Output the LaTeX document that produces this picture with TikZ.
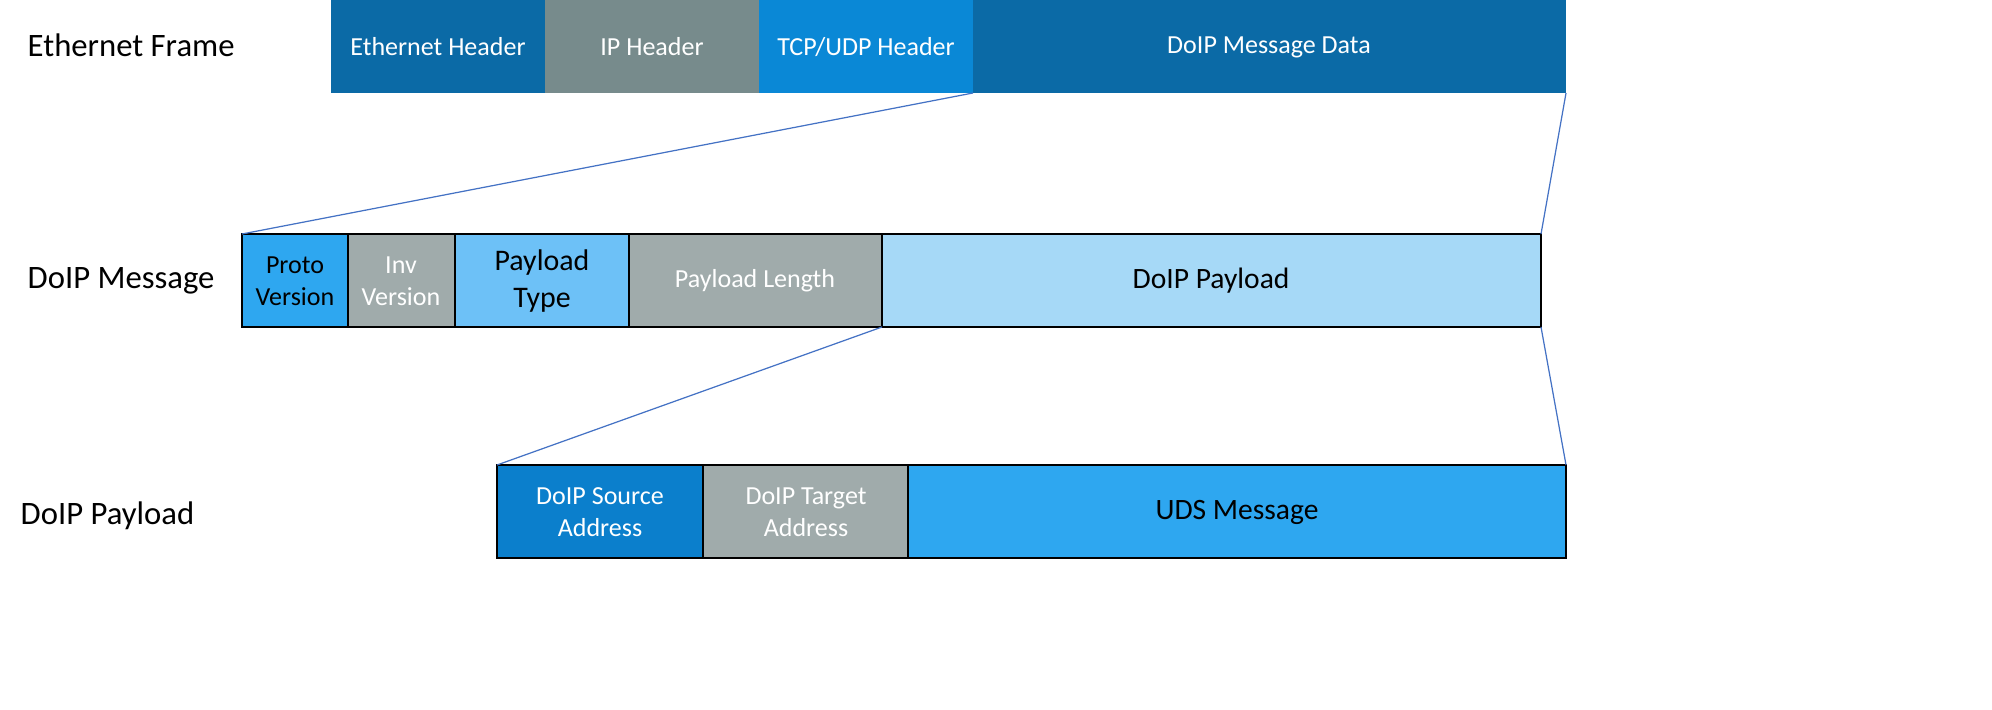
\documentclass[tikz,border=0pt]{standalone}
\usepackage{fontspec}
\setmainfont{Carlito}
\begin{document}
\begin{tikzpicture}[x=0.01cm,y=-0.01cm,
 small/.style={font=\fontsize{7.4pt}{9pt}\selectfont,align=center},
 big/.style={font=\fontsize{8.4pt}{10.4pt}\selectfont,align=center},
 lbl/.style={anchor=west,inner sep=0pt,font=\fontsize{9.3pt}{11pt}\selectfont},
 cell/.style={line width=0.6pt}]
\definecolor{dblue}{HTML}{0B6AA6}
\definecolor{dgray}{HTML}{778B8C}
\definecolor{mblue}{HTML}{0A88D6}
\definecolor{sky}{HTML}{2EA7F0}
\definecolor{lgray}{HTML}{A0ABAB}
\definecolor{pblue}{HTML}{6DC1F7}
\definecolor{vlblue}{HTML}{A6D9F7}
\definecolor{sblue}{HTML}{0B7FCC}
\definecolor{lnc}{HTML}{4472C4}
\useasboundingbox (0,0) rectangle (1992,710);
% row 1
\node[lbl] (l1) at (27,45) {Ethernet Frame};
\path[fill=dblue] (331,0) rectangle (545,93); \node[small,text=white] (eh) at (438,47) {Ethernet Header};
\path[fill=dgray] (545,0) rectangle (759,93); \node[small,text=white] (ip) at (652,47) {IP Header};
\path[fill=mblue] (759,0) rectangle (973,93); \node[small,text=white] (tcp) at (866,47) {TCP/UDP Header};
\path[fill=dblue] (973,0) rectangle (1566,93); \node[small,text=white] (md) at (1269,47) {DoIP Message Data};
% row 2
\node[lbl] (l2) at (27,281) {DoIP Message};
\draw[cell,fill=sky] (242,234) rectangle (348,327); \node[small] (pv) at (295,281) {Proto\\Version};
\draw[cell,fill=lgray] (348,234) rectangle (455,327); \node[small,text=white] (iv) at (401,281) {Inv\\Version};
\draw[cell,fill=pblue] (455,234) rectangle (629,327); \node[big,font=\fontsize{8.5pt}{10.6pt}\selectfont] (pt) at (542,281) {Payload\\Type};
\draw[cell,fill=lgray] (629,234) rectangle (882,327); \node[small,text=white] (pl) at (755,281) {Payload Length};
\draw[cell,fill=vlblue] (882,234) rectangle (1541,327); \node[big] (dp) at (1211,281) {DoIP Payload};
% row 3
\node[lbl] (l3) at (20,516) {DoIP Payload};
\draw[cell,fill=sblue] (497,465) rectangle (703,558); \node[small,text=white] (sa) at (600,512) {DoIP Source\\Address};
\draw[cell,fill=lgray] (703,465) rectangle (908,558); \node[small,text=white] (ta) at (806,512) {DoIP Target\\Address};
\draw[cell,fill=sky] (908,465) rectangle (1566,558); \node[big] (uds) at (1237,512) {UDS Message};
% connectors
\coordinate (a1) at (973,93); \coordinate (a2) at (242,234);
\coordinate (b1) at (1566,93); \coordinate (b2) at (1541,234);
\coordinate (c1) at (882,327); \coordinate (c2) at (497,465);
\coordinate (d1) at (1541,327); \coordinate (d2) at (1566,465);
\draw[lnc,line width=0.35pt] (a1) -- (a2);
\draw[lnc,line width=0.35pt] (b1) -- (b2);
\draw[lnc,line width=0.35pt] (c1) -- (c2);
\draw[lnc,line width=0.35pt] (d1) -- (d2);
\end{tikzpicture}
\end{document}
